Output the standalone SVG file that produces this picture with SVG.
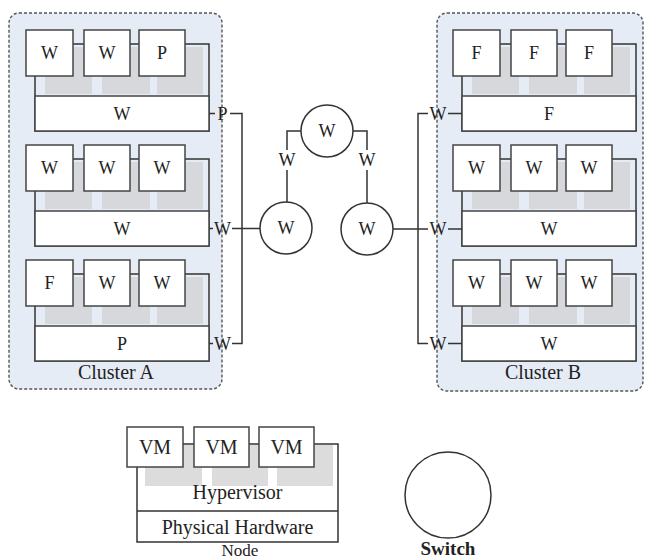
<svg xmlns="http://www.w3.org/2000/svg" width="647" height="560" viewBox="0 0 647 560" font-family="'Liberation Serif', 'DejaVu Serif', serif">
<style>
text{font-family:'Liberation Serif','DejaVu Serif',serif;fill:#222;text-anchor:middle}
.t{font-size:18px}
.l{font-size:20px}
.cl{fill:#e6ecf5;stroke:#555;stroke-width:1.4;stroke-dasharray:3 2}
.band{fill:#d6d8dc}
.box{fill:#fff;stroke:#444;stroke-width:1.5}
.ln{fill:none;stroke:#333;stroke-width:1.5}
.sw{fill:#fff;stroke:#333;stroke-width:1.5}
</style>
<defs>
<g id="frame">
<rect class="band" x="10" y="17" width="47" height="47"/>
<rect class="band" x="67" y="17" width="48" height="47"/>
<rect class="band" x="122" y="17" width="46" height="47"/>
<path class="ln" d="M150 14H174V101H0V46"/>
<rect class="box" x="0" y="66" width="174" height="35"/>
<path class="ln" d="M38 14H49M95 14H104"/>
<rect class="box" x="-9" y="0" width="47" height="46"/>
<rect class="box" x="49" y="0" width="46" height="46"/>
<rect class="box" x="104" y="0" width="46" height="46"/>
</g>
</defs>

<g id="clusterA">
<rect class="cl" x="9" y="13" width="213" height="376" rx="10"/>
<text class="l" x="116" y="379">Cluster A</text>
</g>
<g id="clusterB">
<rect class="cl" x="437" y="13" width="206" height="378" rx="10"/>
<text class="l" x="543" y="379">Cluster B</text>
</g>

<g id="a1" transform="translate(35,30)">
<use href="#frame"/>
<text class="t" x="14.5" y="29">W</text><text class="t" x="72" y="29">W</text><text class="t" x="127" y="29">P</text>
<text class="t" x="87" y="90">W</text>
</g>
<g id="a2" transform="translate(35,145)">
<use href="#frame"/>
<text class="t" x="14.5" y="29">W</text><text class="t" x="72" y="29">W</text><text class="t" x="127" y="29">W</text>
<text class="t" x="87" y="90">W</text>
</g>
<g id="a3" transform="translate(35,260)">
<use href="#frame"/>
<text class="t" x="14.5" y="29">F</text><text class="t" x="72" y="29">W</text><text class="t" x="127" y="29">W</text>
<text class="t" x="87" y="90">P</text>
</g>
<g id="b1" transform="translate(462,30)">
<use href="#frame"/>
<text class="t" x="14.5" y="29">F</text><text class="t" x="72" y="29">F</text><text class="t" x="127" y="29">F</text>
<text class="t" x="87" y="90">F</text>
</g>
<g id="b2" transform="translate(462,145)">
<use href="#frame"/>
<text class="t" x="14.5" y="29">W</text><text class="t" x="72" y="29">W</text><text class="t" x="127" y="29">W</text>
<text class="t" x="87" y="90">W</text>
</g>
<g id="b3" transform="translate(462,260)">
<use href="#frame"/>
<text class="t" x="14.5" y="29">W</text><text class="t" x="72" y="29">W</text><text class="t" x="127" y="29">W</text>
<text class="t" x="87" y="90">W</text>
</g>

<g id="connectors">
<path class="ln" d="M209 113.5H215M230 113.5H242V343.5H232M209 228.5H213M232 228.5H260M209 343.5H213"/>
<path class="ln" d="M462 113.5H448M428 113.5H418V343.5H428M448 343.5H462M393 229H428M448 229H462"/>
<path class="ln" d="M301 131H287V150M287 170V202M353 131H367V150M367 170V203"/>
<text class="t" x="222.5" y="120">P</text>
<text class="t" x="222.5" y="235">W</text>
<text class="t" x="222.5" y="350">W</text>
<text class="t" x="438" y="120">W</text>
<text class="t" x="438" y="235">W</text>
<text class="t" x="438" y="350">W</text>
<text class="t" x="287" y="166">W</text>
<text class="t" x="367" y="166">W</text>
</g>

<g id="sw1"><circle class="sw" cx="327" cy="131" r="26"/><text class="t" x="327" y="137">W</text></g>
<g id="sw2"><circle class="sw" cx="286" cy="228" r="26"/><text class="t" x="286" y="234">W</text></g>
<g id="sw3"><circle class="sw" cx="367" cy="229" r="26"/><text class="t" x="367" y="235">W</text></g>

<g id="legendNode" transform="translate(0,-5)">
<rect fill="#dcdcdc" x="145" y="450" width="57" height="41"/>
<rect fill="#dcdcdc" x="212" y="450" width="56" height="41"/>
<rect fill="#dcdcdc" x="277" y="450" width="56" height="41"/>
<path class="ln" d="M314 449H338V547H137V472M137 516H338M183 449H194M249 449H259"/>
<rect class="box" x="127" y="432" width="56" height="40"/>
<rect class="box" x="194" y="432" width="55" height="40"/>
<rect class="box" x="259" y="432" width="55" height="40"/>
<text class="l" x="155" y="459">VM</text>
<text class="l" x="221.5" y="459">VM</text>
<text class="l" x="286.5" y="459">VM</text>
<text class="l" x="237.5" y="504">Hypervisor</text>
<text class="l" x="237.5" y="539">Physical Hardware</text>
<text x="240" y="560.5" style="font-size:17px">Node</text>
</g>
<g id="legendSwitch">
<circle class="sw" cx="448" cy="495" r="43"/>
<text x="448" y="555" style="font-size:19px;font-weight:bold">Switch</text>
</g>
</svg>
